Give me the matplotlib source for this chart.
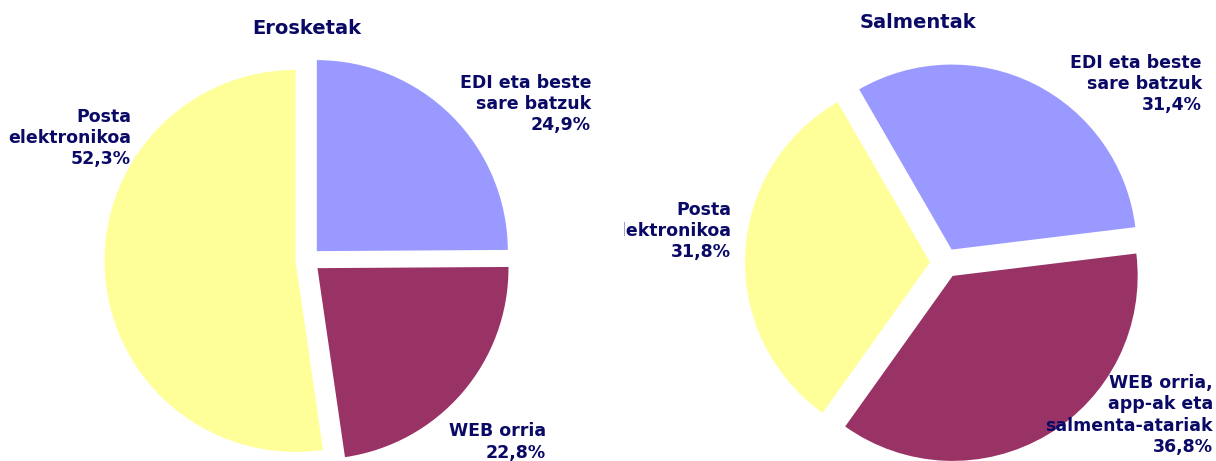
import matplotlib
matplotlib.use("Agg")
from matplotlib import pyplot as plt
from matplotlib.transforms import Bbox, TransformedBbox

# data
categories = ["EDI eta beste\nsare batzuk", "WEB orria", "Posta\nelektronikoa"]
cat_sales = ["EDI eta beste\nsare batzuk", "WEB orria,\napp-ak eta\nsalmenta-atariak", "Posta\nelektronikoa"]
erosketak = [24.9, 22.8, 52.3]
salmentak = [31.4, 36.8, 31.8]
colors = ["#9999FF", "#993366", "#FFFF99"]
txt_color = "#0A0A66"

W, H = 1216, 461
fig = plt.figure(figsize=(W / 100, H / 100), dpi=100)
ax = fig.add_axes([0, 0, 1, 1])

def pct(v):
    return ("%.1f%%" % v).replace(".", ",")

# left pie (axes units = pixels, explode is absolute)
ax.pie(erosketak, colors=colors, startangle=90, counterclock=False,
       explode=[12.5] * 3, center=(308, H - 260), radius=191,
       wedgeprops=dict(linewidth=0))
# right pie
ax.pie(salmentak, colors=colors, startangle=120, counterclock=False,
       explode=[15] * 3, center=(945, H - 263), radius=185,
       wedgeprops=dict(linewidth=0))

ax.set_xlim(0, W)
ax.set_ylim(0, H)
ax.set_aspect("equal")
ax.axis("off")

fs = 12.5
kw = dict(color=txt_color, fontsize=fs, fontweight="bold", ha="right",
          va="center", linespacing=1.22)

# titles
fig.text(307 / W, 1 - 28 / H, "Erosketak", color=txt_color, fontsize=14,
         fontweight="bold", ha="center", va="center")
fig.text(918 / W, 1 - 22 / H, "Salmentak", color=txt_color, fontsize=14,
         fontweight="bold", ha="center", va="center")

# left labels
fig.text(591 / W, 1 - 104 / H, categories[0] + "\n" + pct(erosketak[0]), **kw)
fig.text(546 / W, 1 - 442 / H, categories[1] + "\n" + pct(erosketak[1]), **kw)
fig.text(131 / W, 1 - 138 / H, categories[2] + "\n" + pct(erosketak[2]), **kw)

# right labels
fig.text(1202 / W, 1 - 84 / H, cat_sales[0] + "\n" + pct(salmentak[0]), **kw)
fig.text(1213 / W, 1 - 415 / H, cat_sales[1] + "\n" + pct(salmentak[1]), **kw)
t = fig.text(731 / W, 1 - 231 / H, cat_sales[2] + "\n" + pct(salmentak[2]), **kw)
t.set_clip_box(TransformedBbox(Bbox([[624 / W, 0], [1, 1]]), fig.transFigure))
t.set_clip_on(True)

fig.savefig("out.png", dpi=100, facecolor="white")
